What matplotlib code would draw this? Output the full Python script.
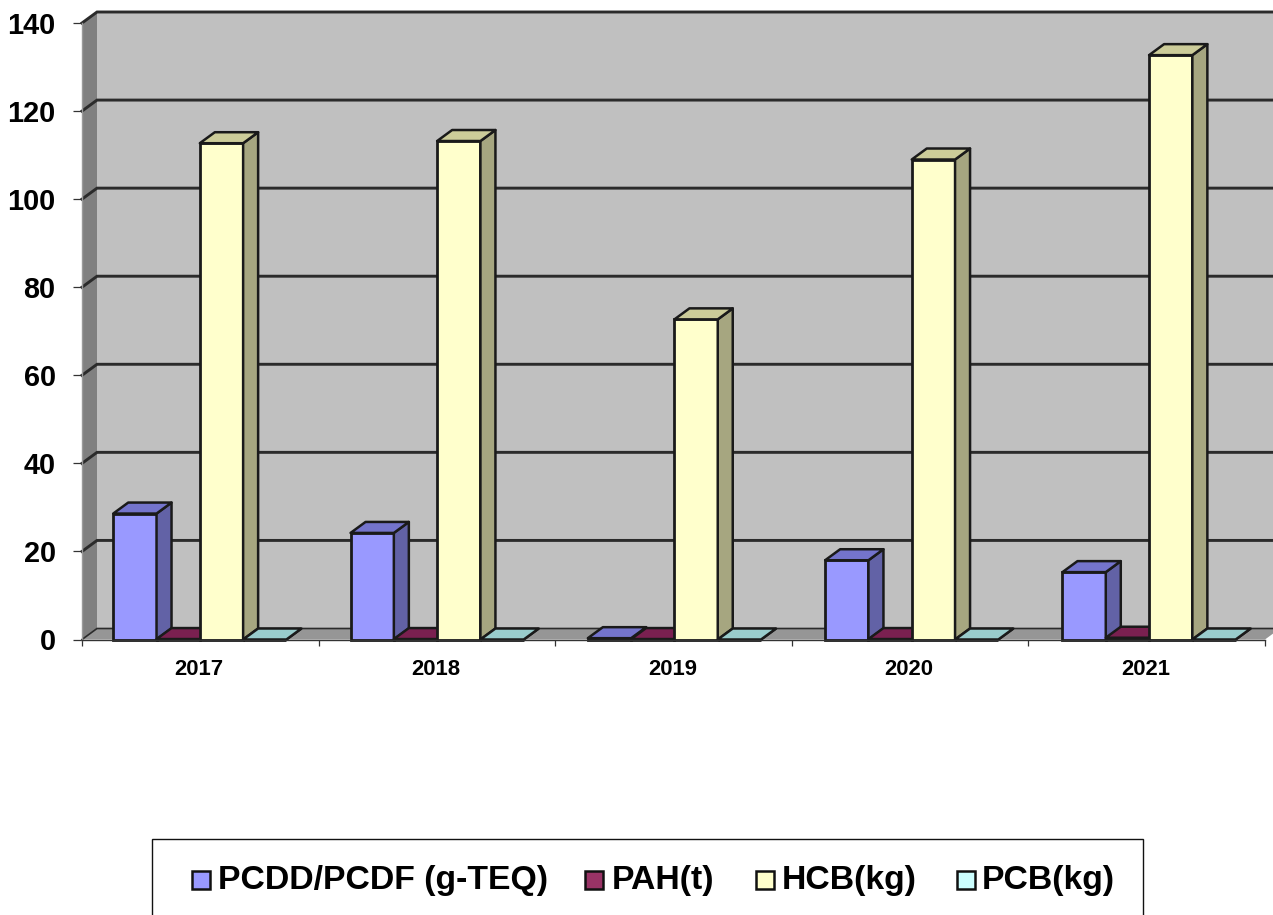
import matplotlib
matplotlib.use("Agg")
import matplotlib.pyplot as plt
from matplotlib.patches import Polygon, Rectangle

plt.rcParams["font.family"] = ["Liberation Sans", "DejaVu Sans"]
plt.rcParams["font.weight"] = "bold"

years = ["2017", "2018", "2019", "2020", "2021"]
pcdd = [28.6, 24.2, 0.3, 18.0, 15.3]
pah = [0.1, 0.1, 0.1, 0.1, 0.4]
hcb = [112.7, 113.2, 72.7, 109.0, 132.7]
pcb = [0.0, 0.0, 0.0, 0.0, 0.0]
y_ticks = [0, 20, 40, 60, 80, 100, 120, 140]

series = [
    ("PCDD/PCDF (g-TEQ)", pcdd, "#9999FF", "#6262A6", "#7474CC"),
    ("PAH(t)", pah, "#993366", "#5E1F40", "#7A2050"),
    ("HCB(kg)", hcb, "#FFFFCC", "#A6A680", "#CCCC99"),
    ("PCB(kg)", pcb, "#CCFFFF", "#80A6A6", "#99CCCC"),
]

W, H = 1273, 915
edge = "#1a1a1a"

fig = plt.figure(figsize=(W / 100, H / 100), dpi=100)
ax = fig.add_axes([82 / W, (H - 639.5) / H, 1183 / W, 616.5 / H])
ax.set_xlim(0, 5)
ax.set_ylim(0, 140)
ax.patch.set_visible(False)

# depth of the fake 3d box, in data units
dx = 15 / (1183 / 5)
dy = 11 / (616.5 / 140)
bar_w = 0.183
gap = 0.132
step = 1.003  # groups drift a little against the ticks in the original


def face(pts, color, z, lw=1.8, ec=edge):
    ax.add_patch(Polygon(pts, closed=True, facecolor=color, edgecolor=ec,
                         linewidth=lw, zorder=z, clip_on=False, joinstyle="round"))


# walls and floor
face([(dx, dy), (5 + dx, dy), (5 + dx, 140 + dy), (dx, 140 + dy)], "#C0C0C0", 1, 0, "none")
face([(0, 0), (dx, dy), (dx, 140 + dy), (0, 140)], "#808080", 1, 0, "none")
face([(0, 0), (5, 0), (5 + dx, dy), (dx, dy)], "#969696", 1, 0, "none")

for v in y_ticks:
    ax.plot([0, dx, 5 + dx], [v, v + dy, v + dy], color="#2b2b2b", lw=2.1 if v else 1.2,
            zorder=2, clip_on=False, solid_joinstyle="miter")

# bars, left to right so each one covers the side of the one before
for i in range(len(years)):
    for k, (name, vals, c_front, c_side, c_top) in enumerate(series):
        x0 = i * step + gap + k * bar_w
        x1 = x0 + bar_w
        v = vals[i]
        z = 3 + i + k * 0.1
        ax.bar(x0, v, width=bar_w, align="edge", color=c_front, edgecolor=edge,
               linewidth=2.0, zorder=z, clip_on=False)
        face([(x1, 0), (x1 + dx, dy), (x1 + dx, v + dy), (x1, v)], c_side, z)
        face([(x0, v), (x1, v), (x1 + dx, v + dy), (x0 + dx, v + dy)], c_top, z)

for s in ["top", "right"]:
    ax.spines[s].set_visible(False)
ax.spines["left"].set_color("#9a9a9a")
ax.spines["left"].set_linewidth(1.0)
ax.spines["bottom"].set_color("#333333")
ax.spines["bottom"].set_linewidth(1.0)
ax.spines["bottom"].set_zorder(20)

ax.set_yticks(y_ticks)
ax.tick_params(axis="y", length=6.5, width=0.9, color="#333333", pad=12.5, labelsize=20.8)
ax.set_xticks(range(6))
ax.set_xticklabels([])
ax.set_xticks([i + 0.495 for i in range(5)], minor=True)
ax.set_xticklabels(years, minor=True, fontsize=15.9)
ax.tick_params(axis="x", which="major", length=4.5, width=0.9, color="#333333")
ax.tick_params(axis="x", which="minor", length=0, pad=14.2)

# legend box runs off the bottom of the picture
fig.add_artist(Rectangle((152 / W, -0.05), 991 / W, (H - 839) / H + 0.05, transform=fig.transFigure,
                         facecolor="white", edgecolor="#111111", linewidth=1.0))
legend_swatch = [192, 585, 756, 957]
legend_text = [218, 612, 782, 982]
for (name, vals, c_front, c_side, c_top), sx, tx in zip(series, legend_swatch, legend_text):
    fig.add_artist(Rectangle((sx / W, (H - 889) / H), 18 / W, 18 / H, transform=fig.transFigure,
                             facecolor=c_front, edgecolor="#111111", linewidth=1.8))
    fig.text(tx / W, (H - 880) / H, name, fontsize=24.3, fontweight="bold", va="center", ha="left")

fig.savefig("out.png", dpi=100, facecolor="white")
